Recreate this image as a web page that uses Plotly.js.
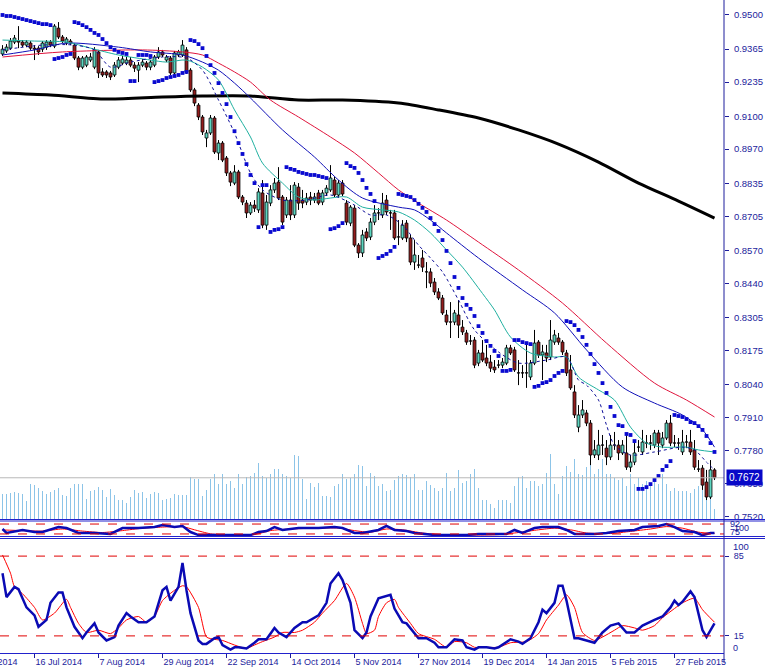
<!DOCTYPE html>
<html><head><meta charset="utf-8">
<script src="https://cdn.plot.ly/plotly-3.0.1.min.js"></script>
<style>html,body{margin:0;padding:0;background:#fff;overflow:hidden;}#chart{width:765px;height:671px;}</style>
</head><body><div id="chart"></div>
<script>
// ---- Daily AUD/USD-like candles (bar index 0 = first visible day) ----
const openP = [.9346,.9358,.9369,.9393,.9397,.9393,.9381,.9389,.9369,.9369,
.9365,.9373,.9393,.9377,.9448,.9413,.9389,.9397,.9381,.9330,
.9294,.9302,.9322,.9294,.9354,.9275,.9275,.9271,.9263,.9294,
.9310,.9310,.9322,.9302,.9282,.9302,.9310,.9294,.9302,.9334,
.9354,.9322,.9330,.9271,.9342,.9342,.9362,.9282,.9204,.9144,
.9097,.9014,.9034,.9093,.8955,.8994,.8935,.8876,.8836,.8880,
.8781,.8757,.8718,.8749,.8730,.8797,.8670,.8757,.8809,.8840,
.8781,.8710,.8769,.8710,.8820,.8769,.8761,.8781,.8769,.8797,
.8761,.8797,.8809,.8848,.8789,.8836,.8757,.8678,.8737,.8591,
.8560,.8643,.8623,.8682,.8718,.8710,.8769,.8718,.8718,.8623,
.8619,.8678,.8619,.8524,.8512,.8540,.8485,.8485,.8445,.8406,
.8382,.8315,.8287,.8287,.8315,.8267,.8244,.8212,.8216,.8125,
.8165,.8145,.8129,.8109,.8117,.8117,.8125,.8185,.8177,.8086,
.8086,.8086,.8070,.8125,.8208,.8157,.8165,.8149,.8208,.8224,
.8208,.8165,.8098,.8011,.7872,.7920,.7928,.7888,.7762,.7762,
.7801,.7789,.7754,.7801,.7801,.7770,.7770,.7714,.7734,.7793,
.7774,.7809,.7809,.7801,.7849,.7801,.7829,.7888,.7809,.7809,
.7774,.7813,.7813,.7782,.7706,.7710,.7655,.7596,.7703];
const highP = [.9381,.9385,.9409,.9421,.9456,.9401,.9401,.9397,.9381,.9377,
.9397,.9401,.9401,.9464,.9472,.9421,.9413,.9405,.9389,.9338,
.9338,.9342,.9350,.9373,.9362,.9290,.9282,.9279,.9314,.9334,
.9338,.9334,.9334,.9314,.9314,.9326,.9318,.9322,.9342,.9373,
.9362,.9342,.9338,.9358,.9362,.9401,.9373,.9290,.9212,.9152,
.9105,.9046,.9105,.9101,.9006,.9002,.8943,.8884,.8907,.8888,
.8789,.8769,.8761,.8769,.8816,.8848,.8789,.8828,.8856,.8899,
.8789,.8781,.8828,.8840,.8836,.8809,.8797,.8801,.8797,.8809,
.8809,.8828,.8907,.8860,.8848,.8848,.8769,.8749,.8749,.8599,
.8651,.8658,.8698,.8749,.8737,.8797,.8789,.8730,.8730,.8690,
.8690,.8690,.8631,.8611,.8552,.8572,.8524,.8500,.8461,.8421,
.8394,.8335,.8366,.8335,.8374,.8295,.8256,.8236,.8228,.8177,
.8216,.8197,.8157,.8137,.8137,.8145,.8197,.8197,.8189,.8137,
.8117,.8197,.8137,.8256,.8216,.8197,.8197,.8295,.8256,.8244,
.8216,.8177,.8157,.8038,.7959,.7979,.7940,.7900,.7821,.7861,
.7841,.7821,.7841,.7853,.7821,.7821,.7841,.7762,.7821,.7821,
.7861,.7841,.7841,.7861,.7861,.7853,.7900,.7920,.7841,.7829,
.7861,.7841,.7861,.7821,.7742,.7722,.7703,.7742,.7710];
const lowP = [.9338,.9350,.9362,.9385,.9369,.9373,.9373,.9362,.9322,.9342,
.9354,.9362,.9373,.9369,.9405,.9389,.9381,.9381,.9322,.9282,
.9286,.9294,.9314,.9286,.9251,.9255,.9251,.9243,.9255,.9286,
.9302,.9302,.9294,.9275,.9235,.9294,.9282,.9282,.9294,.9326,
.9334,.9314,.9263,.9263,.9334,.9334,.9267,.9196,.9140,.9085,
.9026,.8978,.9026,.8951,.8927,.8919,.8864,.8824,.8828,.8773,
.8749,.8698,.8710,.8722,.8718,.8658,.8651,.8745,.8797,.8769,
.8670,.8698,.8690,.8698,.8730,.8737,.8749,.8749,.8757,.8749,
.8749,.8785,.8801,.8781,.8781,.8785,.8670,.8666,.8583,.8540,
.8544,.8607,.8611,.8670,.8690,.8698,.8710,.8651,.8611,.8591,
.8611,.8603,.8512,.8493,.8500,.8485,.8421,.8425,.8394,.8374,
.8315,.8275,.8224,.8275,.8224,.8236,.8197,.8197,.8105,.8113,
.8129,.8113,.8090,.8086,.8105,.8105,.8117,.8157,.8090,.8038,
.8066,.8027,.8058,.8117,.8145,.8058,.8129,.8137,.8197,.8197,
.8157,.8074,.8019,.7908,.7852,.7908,.7876,.7722,.7750,.7742,
.7762,.7722,.7742,.7782,.7742,.7762,.7703,.7695,.7722,.7774,
.7762,.7789,.7782,.7789,.7762,.7789,.7821,.7797,.7793,.7782,
.7762,.7789,.7762,.7703,.7695,.7624,.7584,.7588,.7663];
const closeP = [.9365,.9373,.9397,.9409,.9393,.9381,.9393,.9369,.9365,.9354,
.9389,.9393,.9381,.9456,.9413,.9397,.9405,.9389,.9330,.9294,
.9330,.9334,.9334,.9362,.9271,.9263,.9263,.9255,.9302,.9322,
.9326,.9322,.9302,.9290,.9302,.9314,.9294,.9314,.9334,.9354,
.9342,.9334,.9271,.9350,.9354,.9381,.9275,.9204,.9152,.9097,
.9038,.9034,.9093,.8959,.8994,.8927,.8876,.8840,.8880,.8781,
.8761,.8718,.8749,.8737,.8801,.8670,.8761,.8809,.8836,.8777,
.8682,.8769,.8710,.8828,.8757,.8757,.8777,.8769,.8781,.8757,
.8797,.8816,.8856,.8789,.8836,.8793,.8682,.8741,.8591,.8560,
.8631,.8619,.8682,.8718,.8718,.8757,.8722,.8718,.8619,.8623,
.8670,.8619,.8524,.8552,.8512,.8504,.8485,.8441,.8406,.8382,
.8323,.8287,.8287,.8323,.8275,.8248,.8208,.8212,.8117,.8165,
.8137,.8125,.8105,.8098,.8117,.8129,.8185,.8165,.8098,.8086,
.8086,.8086,.8125,.8204,.8157,.8169,.8145,.8216,.8236,.8208,
.8169,.8086,.8027,.7920,.7920,.7940,.7888,.7762,.7782,.7801,
.7801,.7754,.7801,.7801,.7770,.7801,.7714,.7734,.7770,.7793,
.7813,.7809,.7809,.7849,.7809,.7829,.7888,.7809,.7809,.7809,
.7813,.7813,.7774,.7714,.7706,.7643,.7596,.7703,.7672];
const tickVolume = [2500,2500,2600,2700,2600,2500,1800,3500,3400,3100,
2800,2500,2700,2900,3100,2400,2300,3100,3500,3500,
3500,2000,2800,2900,3200,2900,2200,3000,2400,1900,
1900,1600,2200,2900,2600,2700,2100,2500,2700,2600,
1900,2000,2100,2500,2400,2400,2400,4200,4000,4000,
2300,2900,4000,4500,3500,4500,3500,3800,3100,4500,
3500,4200,4300,4600,5600,4300,4100,4500,5000,5000,
4500,4300,4100,6400,6300,4000,2000,3600,3200,3600,
2300,2300,2200,3300,3500,4500,4000,4100,4500,5400,
5300,3300,4600,4300,3300,
3500,2800,2900,3900,4300,4500,4400,4200,4500,2900,
2900,3800,3400,3100,2800,3100,4600,2800,3100,4900,
3600,3800,4500,5000,3100,1900,1900,1500,1100,1900,
1900,1900,1600,3300,4200,4300,3100,3800,3800,3300,
3500,4600,6500,3500,2500,4300,5300,4700,6000,4500,
4400,5200,5500,4500,5000,6000,4500,4500,4100,3900,
4100,3300,4500,3500,4100,3500,3800,3600,4100,3500,
4500,3500,2800,3100,2800,2800,2800,2600,3000,3300,
3100,3100,3000,1000];
const parabolicSar = [.9500,.9496,.9496,.9492,.9488,.9484,.9480,.9476,.9472,.9468,.9464,.9464,.9460,
.9326,.9330,.9334,.9342,.9346,
.9472,.9468,.9460,.9452,.9441,.9429,.9421,.9405,.9389,.9373,.9362,.9354,.9350,.9346,
.9239,.9239,
.9342,.9342,.9342,.9338,
.9235,.9239,.9243,.9251,.9255,.9259,.9263,.9271,.9275,
.9401,.9397,.9385,.9369,.9338,.9302,.9271,.9231,.9192,.9148,.9097,.9041,.8994,.8951,.8911,.8868,.8836,
.8662,
.8828,.8828,
.8643,.8651,.8654,.8662,
.8899,.8892,.8888,.8880,.8876,.8872,.8868,.8868,.8864,.8860,.8856,
.8654,.8658,.8666,.8678,
.8915,.8903,.8896,.8876,.8848,.8817,.8793,.8765,
.8540,.8548,.8556,.8568,.8584,
.8793,.8789,.8785,.8781,.8769,.8754,.8738,.8722,.8698,.8674,.8647,.8611,.8568,.8520,.8465,.8422,.8382,.8355,.8339,.8311,.8271,.8244,.8212,.8193,.8173,.8153,
.8094,.8094,.8098,
.8216,.8216,.8208,.8204,.8200,
.8031,.8035,.8046,.8050,.8058,.8074,.8086,.8094,
.8291,.8287,.8275,.8256,.8228,.8197,.8161,.8121,.8086,.8046,.8007,.7952,.7916,.7880,.7876,.7845,.7841,.7817,
.7628,.7628,.7635,.7647,.7663,.7679,.7703,.7718,.7738,
.7920,.7916,.7912,.7904,.7892,.7888,.7876,.7861,.7837,.7809,.7774];

// ---- Moving averages (read at sample bars) ----
const ma200Bars = [0,12,26,40,50,62,74,85,99,109,119,129,139,149,159,169,178];
const ma200Vals = [.9192,.9184,.9168,.9176,.9180,.9180,.9164,.9164,.9152,.9125,.9093,.9046,.8990,.8919,.8836,.8765,.8698];
const maRedBars = [0,15,35,45,50,54,58,62,67,74,82,88,94,99,104,111,119,129,140,151,163,171,178];
const maRedVals = [.9334,.9354,.9362,.9354,.9342,.9310,.9275,.9235,.9164,.9097,.9018,.8955,.8876,.8809,.8757,.8690,.8603,.8493,.8362,.8204,.8046,.7979,.7912];
const maBlueBars = [0,8,16,29,37,45,50,54,58,62,70,78,84,90,99,103,107,111,119,130,138,146,155,163,170,175,178];
const maBlueVals = [.9342,.9362,.9389,.9373,.9354,.9342,.9314,.9282,.9231,.9172,.9046,.8939,.8848,.8777,.8741,.8730,.8690,.8639,.8540,.8414,.8323,.8177,.8030,.7967,.7920,.7861,.7793];
const maCyanBars = [0,8,16,22,29,37,41,46,50,54,58,62,65,70,74,78,82,86,90,95,99,103,107,111,115,120,123,127,132,138,141,144,149,153,157,161,165,171,174,178];
const maCyanVals = [.9401,.9397,.9393,.9369,.9342,.9322,.9314,.9322,.9294,.9243,.9125,.9018,.8915,.8836,.8781,.8769,.8777,.8781,.8741,.8730,.8722,.8690,.8639,.8572,.8504,.8400,.8335,.8228,.8165,.8149,.8149,.8070,.8019,.7979,.7872,.7809,.7793,.7793,.7782,.7774];
const maDotBars = [0,10,18,23,27,32,40,46,50,54,58,62,65,70,76,82,88,92,96,100,104,107,110,114,118,124,129,136,141,144,146,149,151,153,157,163,170,173,176,178];
const maDotVals = [.9362,.9381,.9381,.9362,.9294,.9314,.9334,.9330,.9282,.9164,.9034,.8876,.8809,.8769,.8769,.8789,.8749,.8710,.8710,.8670,.8591,.8540,.8485,.8374,.8256,.8169,.8125,.8137,.8149,.8058,.8038,.7979,.7880,.7801,.7762,.7774,.7793,.7782,.7734,.7703];

// ---- Oscillators ----
const stochKBars = [0,1,3,4,6,8,9,11,12,14,15,16,18,20,21,23,24,26,28,29,31,32,34,36,38,40,41,42,44,45,46,47,49,50,51,53,54,55,57,58,59,61,63,64,66,68,69,71,73,75,76,79,81,82,84,85,87,88,90,91,92,94,97,98,100,101,104,106,108,109,111,113,115,116,118,119,121,123,124,127,129,130,132,134,135,136,138,139,140,141,143,144,146,148,150,152,154,156,158,160,163,165,167,168,169,170,172,173,175,176,178];
const stochKVals = [70,49,58,56,40,33,23,29,44,53,53,40,23,13,18,26,18,11,14,24,35,32,27,27,32,55,58,46,58,79,55,35,11,8,8,13,14,7,3,5,5,4,9,12,12,22,18,14,22,27,27,33,44,61,70,64,44,20,13,18,32,48,51,39,27,26,13,13,9,5,5,12,11,5,3,5,5,4,5,12,10,8,13,27,38,35,44,59,59,46,13,13,11,9,18,24,26,18,18,24,29,32,40,46,42,45,54,49,20,14,26];
const stochDBars = [0,2,3,5,8,10,13,16,17,19,21,24,27,29,31,34,36,38,40,43,45,46,49,51,53,55,58,61,63,65,68,70,73,75,78,80,83,86,88,90,91,93,94,96,98,99,102,104,108,111,113,116,118,121,124,127,131,134,136,139,141,143,145,148,150,153,155,158,160,163,165,168,170,173,175,178];
const stochDVals = [86,70,58,52,40,29,35,47,40,26,18,20,17,22,29,32,27,32,46,55,59,58,40,14,12,11,7,4,7,10,14,18,18,20,27,35,46,61,49,26,17,20,32,44,47,40,26,17,12,5,10,9,5,5,5,9,10,17,29,42,51,40,18,11,14,20,24,22,20,24,31,39,44,48,38,27];
const oscBlueBars = [0,1,5,8,10,14,16,19,23,27,30,34,38,40,43,45,47,49,54,58,62,64,66,68,70,74,79,83,85,88,90,94,96,98,101,103,108,111,116,119,126,128,130,133,135,139,141,143,148,151,154,158,160,164,166,168,170,173,175,177,178];
const oscBlueVals = [50,25,44,31,31,62,56,25,25,19,56,56,62,75,62,69,31,12,12,12,12,31,37,62,44,56,56,62,56,25,25,44,69,44,37,25,12,12,12,19,19,44,25,56,62,62,44,19,19,25,37,44,62,69,81,62,37,31,12,25,25];
const oscRedBars = [0,5,10,15,20,25,30,35,40,45,48,52,58,63,67,72,78,84,88,92,96,100,105,110,117,124,129,134,138,142,146,152,157,162,166,170,174,178];
const oscRedVals = [44,40,37,50,37,28,40,55,62,65,45,20,12,15,40,50,55,56,40,30,50,45,25,15,12,15,28,45,55,45,25,22,35,50,65,55,30,22];

// ---- Axis labels ----
const priceTicks = [0.7520,0.7650,0.7780,0.7910,0.8040,0.8175,0.8305,0.8440,0.8570,0.8705,0.8835,0.8970,0.9100,0.9235,0.9365,0.9500];
const dateTickBars = [8,24,40,56,72,88,104,120,136,152,168];
const dateTickLabels = ['16 Jul 2014','7 Aug 2014','29 Aug 2014','22 Sep 2014','14 Oct 2014','5 Nov 2014','27 Nov 2014','19 Dec 2014','14 Jan 2015','5 Feb 2015','27 Feb 2015'];
const firstDateLabel = '24 Jun 2014';
const lastPrice = 0.7672;
const stochLevels = [15, 85];
const oscLevels = [19, 81];

// ---- build traces ----
const N = closeP.length;
const upX=[],upB=[],upH=[],dnX=[],dnB=[],dnH=[],wx=[],wy=[],vx=[],vy=[],sx=[];
for (let i=0;i<N;i++){
  const b=Math.min(openP[i],closeP[i]);
  const t=Math.max(openP[i],closeP[i]);
  const h=Math.max(t-b,0.00005);
  if (closeP[i]>openP[i]) {upX.push(i);upB.push(b);upH.push(h);} else {dnX.push(i);dnB.push(b);dnH.push(h);}
  wx.push(i,i,null,i,i,null); wy.push(lowP[i],b,null,t,highP[i],null);
  vx.push(i,i,null); vy.push(0,tickVolume[i],null);
  sx.push(i);
}
const NAVY='#1c1c9c', AXB='#2222cc';
const FONT='Liberation Sans, Arial, sans-serif';
const traces = [
  {type:'scatter',mode:'lines',x:vx,y:vy,xaxis:'x',yaxis:'y',line:{color:'#8cc4e8',width:1},hoverinfo:'skip'},
  {type:'bar',x:upX,base:upB,y:upH,xaxis:'x',yaxis:'y4',width:0.72,marker:{color:'#5cd6c0',line:{color:'#000',width:0.8}}},
  {type:'bar',x:dnX,base:dnB,y:dnH,xaxis:'x',yaxis:'y4',width:0.72,marker:{color:'#941c1c',line:{color:'#000',width:0.8}}},
  {type:'scatter',mode:'lines',x:wx,y:wy,xaxis:'x',yaxis:'y4',line:{color:'#000',width:1},hoverinfo:'skip'},
  {type:'scatter',mode:'lines',x:ma200Bars,y:ma200Vals,xaxis:'x',yaxis:'y4',line:{color:'#000',width:3,shape:'spline',smoothing:0.8}},
  {type:'scatter',mode:'lines',x:maRedBars,y:maRedVals,xaxis:'x',yaxis:'y4',line:{color:'#e0143c',width:1,shape:'spline',smoothing:0.8}},
  {type:'scatter',mode:'lines',x:maBlueBars,y:maBlueVals,xaxis:'x',yaxis:'y4',line:{color:'#1010b8',width:1,shape:'spline',smoothing:0.8}},
  {type:'scatter',mode:'lines',x:maCyanBars,y:maCyanVals,xaxis:'x',yaxis:'y4',line:{color:'#1fb0a0',width:1,shape:'spline',smoothing:0.8}},
  {type:'scatter',mode:'lines',x:maDotBars,y:maDotVals,xaxis:'x',yaxis:'y4',line:{color:'#10109a',width:1,dash:'dot',shape:'spline',smoothing:0.8}},
  {type:'scatter',mode:'markers',x:sx,y:parabolicSar,xaxis:'x',yaxis:'y4',marker:{symbol:'square',size:3.8,color:'#0a0ad0',line:{width:0}}},
  {type:'scatter',mode:'lines',x:oscRedBars,y:oscRedVals,xaxis:'x',yaxis:'y2',line:{color:'#ff0000',width:1,shape:'spline',smoothing:0.6}},
  {type:'scatter',mode:'lines',x:oscBlueBars,y:oscBlueVals,xaxis:'x',yaxis:'y2',line:{color:'#0a0ab4',width:2.5}},
  {type:'scatter',mode:'lines',x:stochDBars,y:stochDVals,xaxis:'x',yaxis:'y3',line:{color:'#ff0000',width:1,shape:'spline',smoothing:0.6}},
  {type:'scatter',mode:'lines',x:stochKBars,y:stochKVals,xaxis:'x',yaxis:'y3',line:{color:'#0a0ab4',width:2.5}}
];

const H=653; const p=(px)=>(H-px)/H;
const shapes=[];
const hline=(yref,y,color,dash,x1)=>({type:'line',xref:'paper',x0:0,x1:x1||1,yref:yref,y0:y,y1:y,line:{color:color,width:1,dash:dash||'solid'}});
shapes.push(hline('y4',lastPrice,'#b8b8b8'));
stochLevels.forEach(v=>shapes.push(hline('y3',v,'#e00000','dash')));
oscLevels.forEach(v=>shapes.push(hline('y2',v,'#e00000','dash')));
[519.5,521,536.5,538.5].forEach(py=>shapes.push(hline('paper',p(py),AXB,'solid',1.06)));
shapes.push({type:'line',xref:'paper',x0:1,x1:1,yref:'paper',y0:-0.015,y1:1,line:{color:NAVY,width:1}});

const lab=(text,py,xs,size)=>({xref:'paper',x:1,xanchor:'left',xshift:xs,yref:'paper',y:p(py),yanchor:'middle',text:text,showarrow:false,font:{family:FONT,size:size||9.5,color:NAVY}});
const annotations=[
  {xref:'paper',x:1,xanchor:'left',xshift:2,yref:'y4',y:lastPrice,yanchor:'middle',text:'0.7672',showarrow:false,bgcolor:'#0808c8',font:{family:FONT,size:10,color:'#fff'},borderpad:2},
  lab('92',524,4,9),
  lab('100',528,8,9),
  lab('75',532,4,9),
  lab('100',546,7,9.5),
  lab('0',648,7,9),
  {xref:'paper',x:-36/724,xanchor:'left',xshift:2,yref:'paper',y:p(662),yanchor:'middle',text:firstDateLabel,showarrow:false,font:{family:FONT,size:9,color:NAVY}}
];

const layout={
  width:765,height:671,margin:{l:0,r:41,t:0,b:18},
  paper_bgcolor:'#fff',plot_bgcolor:'#fff',showlegend:false,barmode:'overlay',
  xaxis:{range:[-0.625,180.375],anchor:'y3',tickvals:dateTickBars,ticktext:dateTickLabels,ticks:'outside',ticklen:4,tickcolor:NAVY,
    ticklabelposition:'outside right',showline:true,linecolor:AXB,linewidth:1,showgrid:false,zeroline:false,
    tickfont:{family:FONT,size:9,color:NAVY},fixedrange:true},
  yaxis:{domain:[p(519),1],range:[0,51900],visible:false,fixedrange:true},
  yaxis4:{overlaying:'y',side:'right',anchor:'x',range:[0.750915,0.95592],tickvals:priceTicks,tickformat:'.4f',ticks:'outside',ticklen:4,tickcolor:NAVY,
    showline:false,showgrid:false,zeroline:false,tickfont:{family:FONT,size:9.5,color:NAVY},ticklabelstandoff:3,fixedrange:true},
  yaxis2:{domain:[p(537),p(521)],range:[0,100],side:'right',anchor:'x',showticklabels:false,ticks:'',showgrid:false,zeroline:false,showline:false,fixedrange:true},
  yaxis3:{domain:[0,p(539)],range:[0,100],side:'right',anchor:'x',tickvals:stochLevels,ticks:'outside',ticklen:4,tickcolor:NAVY,
    showgrid:false,zeroline:false,showline:false,tickfont:{family:FONT,size:9,color:NAVY},ticklabelstandoff:3,fixedrange:true},
  shapes:shapes,annotations:annotations
};
Plotly.newPlot('chart',traces,layout,{staticPlot:true,displayModeBar:false});
</script></body></html>
